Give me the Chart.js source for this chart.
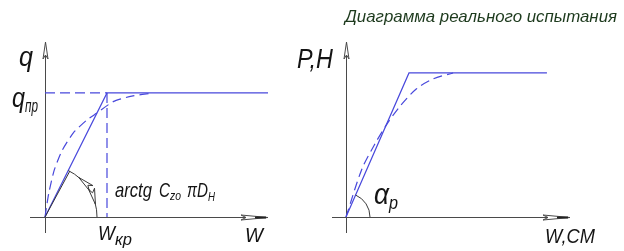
<!DOCTYPE html>
<html><head><meta charset="utf-8">
<script src="https://cdn.jsdelivr.net/npm/chart.js@4.4.0/dist/chart.umd.min.js"></script>
<style>
html,body{margin:0;padding:0;background:#fff;}
#wrap{position:relative;width:624px;height:251px;overflow:hidden;}
.p{position:absolute;top:0;height:251px;}
</style>
</head><body>
<div id="wrap">
 <div class="p" style="left:0;width:285px"><canvas id="left"></canvas></div>
 <div class="p" style="left:285px;width:339px"><canvas id="right"></canvas></div>
</div>
<script>
// ---------- data (normalised: W_кр = 1, q_пр = 1) ----------
const leftTangentW = [0, 0.4];
const leftTangentQ = [0, 0.37];
const leftIdealW   = [0, 1, 3.6];
const leftIdealQ   = [0, 1, 1];
const leftRealW    = [0, 0.06, 0.15, 0.28, 0.46, 0.67, 0.83, 1.1, 1.4, 1.74];
const leftRealQ    = [0, 0.19, 0.38, 0.54, 0.68, 0.78, 0.836, 0.93, 0.975, 1.0];
const leftGuideHW  = [0, 1];
const leftGuideHQ  = [1, 1];
const leftGuideVW  = [1, 1];
const leftGuideVQ  = [1, 0];

const rightIdealW  = [0, 1, 3.19];
const rightIdealP  = [0, 1, 1];
const rightRealW   = [0, 0.25, 0.45, 0.65, 0.86, 1.12, 1.39, 1.7];
const rightRealP   = [0, 0.33, 0.5, 0.645, 0.77, 0.89, 0.96, 1.0];

const BLUE = '#4848dc', AXIS = '#4a4a4a', INK = '#141414', TITLE = '#1d3a1d';
const FONT = "'Liberation Sans','DejaVu Sans',sans-serif";

function pts(xs, ys){ return xs.map((x,i)=>({x, y:ys[i]})); }
function ds(xs, ys, opt){
  return Object.assign({data:pts(xs,ys), borderColor:BLUE, borderWidth:1.2, pointRadius:0,
    pointHoverRadius:0, fill:false, tension:0, showLine:true}, opt||{});
}

function txt(ctx, s, x, y, size, maxW, color){
  ctx.font = 'italic ' + size + 'px ' + FONT;
  ctx.fillStyle = color || INK;
  ctx.textBaseline = 'alphabetic';
  ctx.textAlign = 'left';
  ctx.fillText(s, x, y, maxW);
}

function drawAxes(chart){
  const {ctx, chartArea:a, scales:{x, y}} = chart;
  const ox = Math.round(x.getPixelForValue(0)) + 0.5;
  const oy = Math.round(y.getPixelForValue(0)) + 0.5;
  ctx.save();
  ctx.strokeStyle = AXIS; ctx.lineWidth = 1;
  ctx.beginPath();
  ctx.moveTo(a.left, oy); ctx.lineTo(a.right, oy);
  ctx.moveTo(ox, a.top); ctx.lineTo(ox, a.bottom);
  ctx.stroke();
  ctx.beginPath();
  ctx.moveTo(ox, a.top); ctx.lineTo(ox-2.5, a.top+17); ctx.lineTo(ox, a.top+13); ctx.lineTo(ox+2.5, a.top+17); ctx.closePath();
  ctx.fillStyle = '#fff'; ctx.fill(); ctx.stroke();
  const r = a.right;
  ctx.beginPath();
  ctx.moveTo(r, oy); ctx.lineTo(r-27, oy-2.5); ctx.lineTo(r-22, oy); ctx.lineTo(r-27, oy+2.5); ctx.closePath();
  ctx.fill(); ctx.stroke();
  ctx.lineWidth = 2; ctx.strokeStyle = '#222';
  ctx.beginPath(); ctx.moveTo(r-13, oy); ctx.lineTo(r-2, oy); ctx.stroke();
  ctx.restore();
}

function hollowArrow(ctx, tx, ty, dirx, diry, len, w){
  const nx = -diry, ny = dirx;
  ctx.beginPath();
  ctx.moveTo(tx, ty);
  ctx.lineTo(tx - dirx*len + nx*w, ty - diry*len + ny*w);
  ctx.lineTo(tx - dirx*len*0.75, ty - diry*len*0.75);
  ctx.lineTo(tx - dirx*len - nx*w, ty - diry*len - ny*w);
  ctx.closePath();
  ctx.fillStyle = '#fff'; ctx.fill(); ctx.stroke();
}

const leftDecor = {
  id:'leftDecor',
  beforeDatasetsDraw(chart){ drawAxes(chart); },
  afterDatasetsDraw(chart){
    const {ctx, scales:{x, y}} = chart;
    const ox = x.getPixelForValue(0), oy = y.getPixelForValue(0);
    const lx = x.getPixelForValue(1), ly = y.getPixelForValue(1);
    const a0 = Math.atan2(ly-oy, lx-ox);
    const R = 52;
    ctx.save();
    ctx.strokeStyle = '#3a3a3a'; ctx.lineWidth = 1;
    ctx.beginPath(); ctx.arc(ox, oy, R, a0, 0); ctx.stroke();
    const aa = a0 + (0-a0)*0.22;
    hollowArrow(ctx, ox+R*Math.cos(aa), oy+R*Math.sin(aa), Math.sin(aa), -Math.cos(aa), 16, 3);
    const b = a0 + (0-a0)*0.78;
    hollowArrow(ctx, ox+R*Math.cos(b), oy+R*Math.sin(b), -Math.sin(b), Math.cos(b), 16, 3);
    ctx.restore();
    txt(ctx, 'q', 19, 66, 28, 14);
    txt(ctx, 'q', 12, 107, 28, 13);
    txt(ctx, 'пр', 25, 112, 18, 13);
    txt(ctx, 'arctg', 115, 197, 21, 37);
    txt(ctx, 'C', 159, 197, 21, 11);
    txt(ctx, 'zo', 170, 200, 13, 11);
    txt(ctx, 'π', 187, 197, 21, 10);
    txt(ctx, 'D', 197, 197, 21, 11);
    txt(ctx, 'H', 208, 201, 12, 7);
    txt(ctx, 'W', 98, 240, 21, 17);
    txt(ctx, 'кр', 115, 245, 17, 17);
    txt(ctx, 'W', 245, 242, 21, 18);
  }
};

const RX = 285;
const rightDecor = {
  id:'rightDecor',
  beforeDatasetsDraw(chart){ drawAxes(chart); },
  afterDatasetsDraw(chart){
    const {ctx, scales:{x, y}} = chart;
    const ox = x.getPixelForValue(0), oy = y.getPixelForValue(0);
    const lx = x.getPixelForValue(1), ly = y.getPixelForValue(1);
    const a0 = Math.atan2(ly-oy, lx-ox);
    ctx.save();
    ctx.strokeStyle = '#3a3a3a'; ctx.lineWidth = 1;
    ctx.beginPath(); ctx.arc(ox, oy, 24, a0, 0); ctx.stroke();
    ctx.restore();
    txt(ctx, 'Диаграмма реального испытания', 345-RX, 22, 17, 272, TITLE);
    txt(ctx, 'P,H', 297-RX, 68, 28, 36);
    txt(ctx, 'α', 374-RX, 204, 29, 15);
    txt(ctx, 'p', 389-RX, 209, 18, 9);
    txt(ctx, 'W,CM', 545-RX, 243, 21, 50);
  }
};

const baseOpts = (xr, yr, pad) => ({
  responsive:true, maintainAspectRatio:false, animation:false,
  events:[],
  layout:{padding:pad},
  plugins:{legend:{display:false}, tooltip:{enabled:false}, title:{display:false}},
  scales:{
    x:{type:'linear', display:false, min:xr[0], max:xr[1]},
    y:{type:'linear', display:false, min:yr[0], max:yr[1]}
  }
});

new Chart(document.getElementById('left'), {
  type:'scatter',
  data:{datasets:[
    ds(leftTangentW, leftTangentQ, {borderColor:'#333', borderWidth:1}),
    ds(leftIdealW, leftIdealQ),
    ds(leftRealW, leftRealQ, {borderDash:[9,5], tension:0.2}),
    ds(leftGuideHW, leftGuideHQ, {borderDash:[10,5]}),
    ds(leftGuideVW, leftGuideVQ, {borderDash:[10,5]})
  ]},
  options: baseOpts([-0.242, 3.597], [-0.129, 1.411], {left:30, right:17, top:42, bottom:18}),
  plugins:[leftDecor]
});

new Chart(document.getElementById('right'), {
  type:'scatter',
  data:{datasets:[
    ds(rightIdealW, rightIdealP),
    ds(rightRealW, rightRealP, {borderDash:[9,5], tension:0.3})
  ]},
  options: baseOpts([-0.222, 3.556], [-0.111, 1.215], {left:47, right:54, top:42, bottom:18}),
  plugins:[rightDecor]
});
</script>
</body></html>
